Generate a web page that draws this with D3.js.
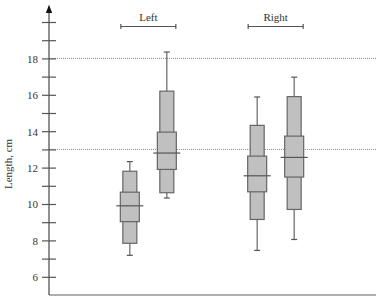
<!DOCTYPE html>
<html>
<head>
<meta charset="utf-8">
<script src="https://cdn.jsdelivr.net/npm/d3@7"></script>
<style>
body{margin:0;background:#fff}
text{font-family:"Liberation Serif","DejaVu Serif",serif;fill:#333}
</style>
</head>
<body>
<div class="Chart"></div>
<script>
// box data
const groups=['Left','Right']
const boxes=[
	{group:'Left', k:0, lo:7.18, q1:7.84, iq1:9.03, med:9.9, iq3:10.65, q3:11.8, hi:12.33},
	{group:'Left', k:1, lo:10.33, q1:10.62, iq1:11.9, med:12.8, iq3:13.95, q3:16.2, hi:18.35},
	{group:'Right', k:0, lo:7.45, q1:9.15, iq1:10.67, med:11.55, iq3:12.63, q3:14.32, hi:15.88},
	{group:'Right', k:1, lo:8.05, q1:9.7, iq1:11.48, med:12.56, iq3:13.73, q3:15.9, hi:16.97}
]
const refLines=[18,13]
const yTicks=d3.range(6,21,1)
const yLabels=[6,8,10,12,14,16,18]

const W=382,H=300
const left=49,right=375,bottom=295

const svg=d3.select('.Chart').append('svg')
	.attr('width',W)
	.attr('height',H)

const yScale=d3.scaleLinear()
	.domain([5,21])
	.range([bottom,bottom-16*18.2])

const xGroup=d3.scalePoint()
	.domain(groups)
	.range([left,right])
	.padding(0.78)

const xInner=d3.scalePoint()
	.domain([0,1])
	.range([-18.5,18.5])

const xPos=d=>xGroup(d.group)+xInner(d.k)

// dotted reference lines
svg.selectAll('.ref')
	.data(refLines)
	.enter()
	.append('line')
	.attr('x1',left)
	.attr('x2',right+1)
	.attr('y1',d=>yScale(d))
	.attr('y2',d=>yScale(d))
	.attr('stroke','#888')
	.attr('stroke-width',1)
	.attr('stroke-dasharray','1,1')

// bottom line
svg.append('line')
	.attr('x1',left)
	.attr('x2',right+1)
	.attr('y1',bottom)
	.attr('y2',bottom)
	.attr('stroke','#b0b0b0')
	.attr('stroke-width',2)

// y axis with ticks crossing both sides
const yAxis=d3.axisLeft(yScale)
	.tickValues(yTicks)
	.tickSize(0)
	.tickFormat('')
const ya=svg.append('g')
	.attr('transform',`translate(${left},0)`)
	.call(yAxis)
ya.select('.domain').remove()
ya.selectAll('.tick line')
	.attr('x1',-7)
	.attr('x2',7)
	.attr('stroke','#555')
	.attr('stroke-width',1.2)
ya.selectAll('.tick')
	.filter(d=>yLabels.includes(d))
	.append('text')
	.attr('x',-11)
	.attr('dy','0.35em')
	.attr('text-anchor','end')
	.style('font-size','11px')
	.text(d=>d)

svg.append('line')
	.attr('x1',left)
	.attr('x2',left)
	.attr('y1',bottom)
	.attr('y2',yScale(20.6))
	.attr('stroke','#555')
	.attr('stroke-width',1.3)
svg.append('path')
	.attr('d',`M${left},${yScale(20.95)}L${left-3.2},${yScale(20.5)}L${left+3.2},${yScale(20.5)}Z`)
	.attr('fill','#111')

svg.append('text')
	.attr('transform',`translate(12,${yScale(12.2)}) rotate(-90)`)
	.attr('text-anchor','middle')
	.style('font-size','11px')
	.text('Length, cm')

// group labels with brackets
const gl=svg.selectAll('.glabel')
	.data(groups)
	.enter()
	.append('g')
gl.append('text')
	.attr('x',d=>xGroup(d))
	.attr('y',21)
	.attr('text-anchor','middle')
	.style('font-size','11px')
	.text(d=>d)
gl.append('path')
	.attr('d',d=>{
		const a=xGroup(d)+xInner(0)-9, b=xGroup(d)+xInner(1)+9
		return `M${a},24V29M${a},26.5H${b}M${b},24V29`
	})
	.attr('fill','none')
	.attr('stroke','#555')
	.attr('stroke-width',1.2)

// boxes
const bx=svg.selectAll('.box')
	.data(boxes)
	.enter()
	.append('g')
	.attr('class','box')

bx.append('line')
	.attr('x1',xPos).attr('x2',xPos)
	.attr('y1',d=>yScale(d.lo)).attr('y2',d=>yScale(d.hi))
	.attr('stroke','#666').attr('stroke-width',1.2)
bx.selectAll('.cap')
	.data(d=>[d.lo,d.hi].map(v=>({x:xPos(d),v})))
	.enter()
	.append('line')
	.attr('x1',d=>d.x-3).attr('x2',d=>d.x+3)
	.attr('y1',d=>yScale(d.v)).attr('y2',d=>yScale(d.v))
	.attr('stroke','#555').attr('stroke-width',1.2)
bx.append('rect')
	.attr('x',d=>xPos(d)-7)
	.attr('width',14)
	.attr('y',d=>yScale(d.q3))
	.attr('height',d=>yScale(d.q1)-yScale(d.q3))
	.attr('fill','#c0c0c0')
	.attr('stroke','#666')
	.attr('stroke-width',1.2)
bx.append('rect')
	.attr('x',d=>xPos(d)-9.5)
	.attr('width',19)
	.attr('y',d=>yScale(d.iq3))
	.attr('height',d=>yScale(d.iq1)-yScale(d.iq3))
	.attr('fill','#c0c0c0')
	.attr('stroke','#666')
	.attr('stroke-width',1.2)
bx.append('line')
	.attr('x1',d=>xPos(d)-13.5).attr('x2',d=>xPos(d)+13.5)
	.attr('y1',d=>yScale(d.med)).attr('y2',d=>yScale(d.med))
	.attr('stroke','#555').attr('stroke-width',1.2)
</script>
</body>
</html>
